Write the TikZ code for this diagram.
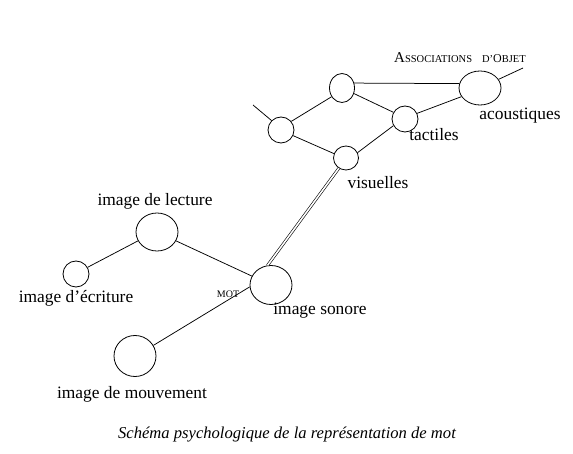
\documentclass[tikz,border=0pt]{standalone}
\usepackage{fontspec}
\setmainfont{Liberation Serif}
\usetikzlibrary{shapes.geometric}
\begin{document}
\begin{tikzpicture}[x=1pt,y=-1pt,
  circ/.style={draw,ellipse,inner sep=0pt,line width=0.8pt},
  lbl/.style={inner sep=0pt,font=\fontsize{17.4}{19}\selectfont},
  link/.style={line width=0.75pt}]
\useasboundingbox (0,0) rectangle (573,454);
\fill[white] (0,0) rectangle (573,454);
% upper network
\node[circ,minimum width=26pt,minimum height=26pt] (A) at (281,130) {};
\node[circ,minimum width=25pt,minimum height=29pt] (B) at (342,88) {};
\node[circ,minimum width=26pt,minimum height=26pt] (T) at (405,119) {};
\node[circ,minimum width=42pt,minimum height=34pt] (C) at (480,88) {};
\node[circ,minimum width=25pt,minimum height=24pt] (V) at (346,158) {};
\coordinate (Aend) at (253,105);
\coordinate (Cend) at (523,68);
\draw[link] (Aend) -- (A.135);
\draw[link] (C.25) -- (Cend);
\draw[link] (A.40) -- (B.220);
\draw[link] (A.-25) -- (V.160);
\draw[link] (B.-25) -- (T.150);
\draw[link] (B.22) -- (C.168);
\draw[link] (T.25) -- (C.205);
\draw[link] (V.25) -- (T.210);
% lower network
\node[circ,minimum width=42pt,minimum height=38pt] (L) at (157,232) {};
\node[circ,minimum width=26pt,minimum height=26pt] (E) at (76,274) {};
\node[circ,minimum width=42pt,minimum height=39pt] (S) at (271,285) {};
\node[circ,minimum width=42pt,minimum height=41pt] (M) at (135,356) {};
\draw[link] (E.30) -- (L.205);
\draw[link] (L.-25) -- (S.155);
\draw[link] (M.30) -- (S.185);
\draw[double,double distance=1.6pt,line width=0.6pt] (S.100) -- (V.235);
% labels
\node[inner sep=0pt] (assoc) at (460,58) {{\fontsize{15}{15}\selectfont A}{\fontsize{10.5}{11}\selectfont SSOCIATIONS}\hspace{10pt}{\fontsize{10.5}{11}\selectfont D'}{\fontsize{12}{12}\selectfont O}{\fontsize{10.5}{11}\selectfont BJET}};
\node[lbl] (lac) at (520,116) {acoustiques};
\node[lbl] (lta) at (434,135) {tactiles};
\node[lbl] (lvi) at (378,183) {visuelles};
\node[lbl] (lle) at (155,201) {image de lecture};
\node[lbl] (lec) at (76,298) {image d'écriture};
\node[inner sep=0pt,font=\fontsize{10}{11}\selectfont] (lmot) at (228,294) {MOT};
\node[lbl] (lso) at (320,311) {image sonore};
\node[lbl] (lmo) at (132,394) {image de mouvement};
\node[lbl,font=\fontsize{16.6}{18}\selectfont\itshape] (cap) at (287,435) {Schéma psychologique de la représentation de mot};
\end{tikzpicture}
\end{document}
